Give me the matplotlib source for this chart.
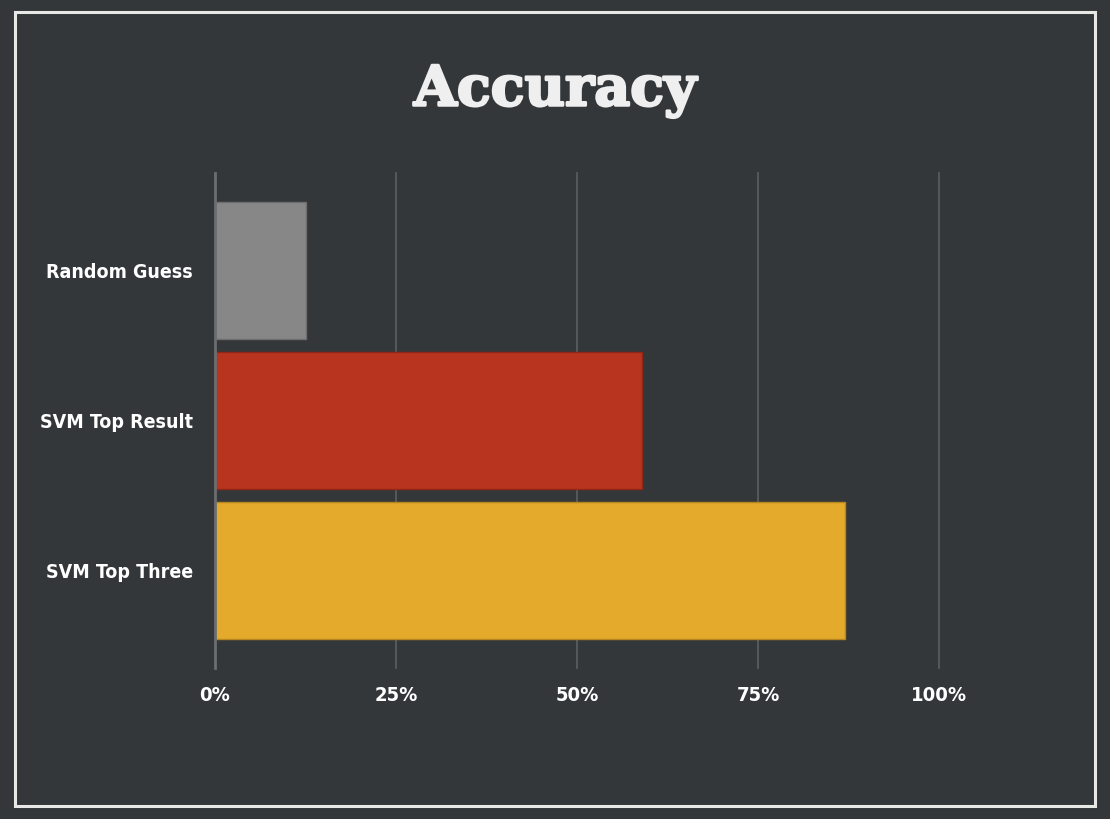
import matplotlib
matplotlib.use("Agg")
import matplotlib.pyplot as plt
from matplotlib.patches import Rectangle
import matplotlib.patheffects as pe

categories = ["Random Guess", "SVM Top Result", "SVM Top Three"]
values = [12.5, 59.0, 87.0]
colors = ["#878787", "#b9341e", "#e3aa2b"]
edges = ["#6e6e6e", "#8f2616", "#b8861f"]
xticks = [0, 25, 50, 75, 100]
xticklabels = ["0%", "25%", "50%", "75%", "100%"]
title = "Accuracy"

bg = "#33373a"
fig = plt.figure(figsize=(11.1, 8.19), dpi=100, facecolor=bg)
# frame border
fig.patches.append(Rectangle((15/1110, 1-806/819), (1095-15)/1110, (806-12)/819,
                             transform=fig.transFigure, fill=False,
                             edgecolor="#e8e8e6", linewidth=2.2, zorder=0))

ax = fig.add_axes([215/1110, 1-668/819, 724/1110, 495/819])
ax.set_facecolor(bg)
ypos = list(range(len(categories)))
ax.barh(ypos, values, height=0.913, color=colors, edgecolor=edges, linewidth=1.0, zorder=3)
ax.set_xlim(0, 100)
ax.set_ylim(2.65, -0.65)
ax.set_xticks(xticks)
ax.set_xticklabels(xticklabels)
ax.set_yticks(ypos)
ax.set_yticklabels(categories)
for x in xticks[1:]:
    ax.axvline(x, color="#5b5f62", linewidth=1.2, zorder=1, clip_on=False)
ax.axvline(0, color="#6a6e71", linewidth=2.0, zorder=4, clip_on=False)
for s in ax.spines.values():
    s.set_visible(False)
ax.tick_params(length=0)
ax.tick_params(axis="x", pad=13)
ax.tick_params(axis="y", pad=16)
for lab in ax.get_xticklabels():
    lab.set_fontsize(14.5)
for lab in ax.get_yticklabels():
    lab.set_fontsize(14)
for lab in ax.get_xticklabels() + ax.get_yticklabels():
    lab.set_color("white")
    lab.set_fontweight("bold")
    lab.set_family(["DejaVu Sans"])
    lab.set_fontstretch("condensed")

fig.text(0.5, 1-90/819, title, ha="center", va="center", color="#efefef",
         fontsize=40, fontweight="bold", family=["DejaVu Serif"],
         path_effects=[pe.withStroke(linewidth=1.8, foreground="#efefef")])

fig.savefig("out.png", dpi=100, facecolor=bg)
